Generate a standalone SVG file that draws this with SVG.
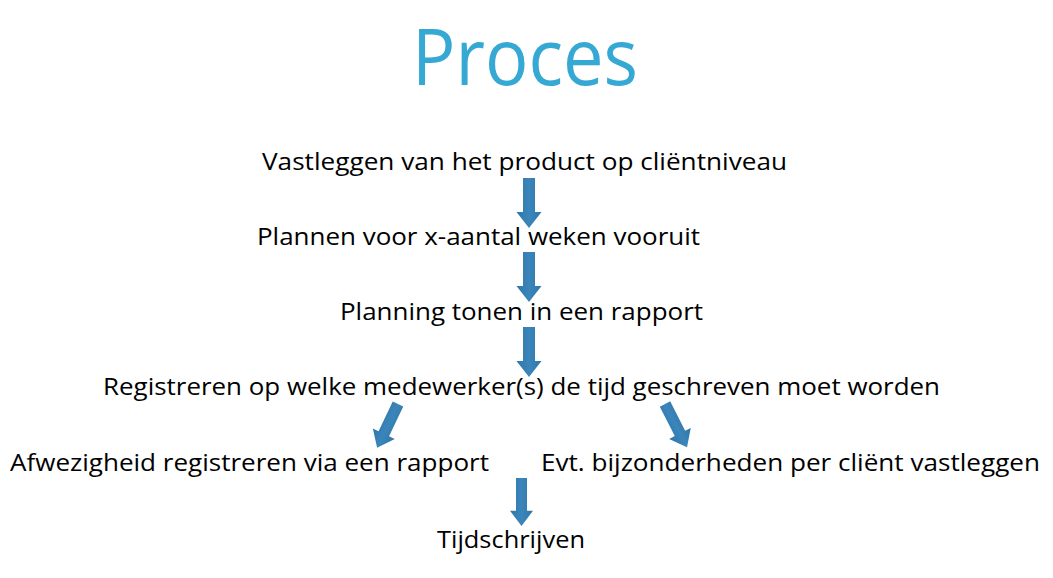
<svg xmlns="http://www.w3.org/2000/svg" width="1053" height="578" viewBox="0 0 1053 578">
<style>
.t{font-family:"Open Sans","Noto Sans",sans-serif;font-size:24px;fill:#000;}
.title{font-family:"Open Sans","Noto Sans",sans-serif;font-size:78px;fill:#35a8d4;}
.arr{fill:url(#g);}
</style>
<defs>
<linearGradient id="g" x1="0" y1="0" x2="1" y2="0">
<stop offset="0" stop-color="#2f77aa"/>
<stop offset="0.5" stop-color="#3a85ba"/>
<stop offset="1" stop-color="#2f77aa"/>
</linearGradient>
<path id="down" d="M-6,0 H6 V34 H12.5 L0,50 L-12.5,34 H-6 Z"/>
</defs>
<rect width="1053" height="578" fill="#fff"/>
<text class="title" x="412" y="85" textLength="226" lengthAdjust="spacingAndGlyphs">Proces</text>
<g id="n1"><text class="t" x="262" y="170" textLength="525" lengthAdjust="spacingAndGlyphs">Vastleggen van het product op cliëntniveau</text></g>
<g id="n2"><text class="t" x="257" y="245" textLength="443" lengthAdjust="spacingAndGlyphs">Plannen voor x-aantal weken vooruit</text></g>
<g id="n3"><text class="t" x="340" y="320" textLength="363" lengthAdjust="spacingAndGlyphs">Planning tonen in een rapport</text></g>
<g id="n4"><text class="t" x="103" y="395" textLength="837" lengthAdjust="spacingAndGlyphs">Registreren op welke medewerker(s) de tijd geschreven moet worden</text></g>
<g id="n5"><text class="t" x="10" y="471" textLength="479" lengthAdjust="spacingAndGlyphs">Afwezigheid registreren via een rapport</text></g>
<g id="n6"><text class="t" x="541" y="471" textLength="499" lengthAdjust="spacingAndGlyphs">Evt. bijzonderheden per cliënt vastleggen</text></g>
<g id="n7"><text class="t" x="437" y="548" textLength="148" lengthAdjust="spacingAndGlyphs">Tijdschrijven</text></g>
<g id="connectors">
<use href="#down" class="arr" transform="translate(529,178)"/>
<use href="#down" class="arr" transform="translate(529,252)"/>
<use href="#down" class="arr" transform="translate(529,327)"/>
<use href="#down" class="arr" transform="translate(398,404) rotate(25.5) scale(0.97)"/>
<use href="#down" class="arr" transform="translate(665,404) rotate(-27) scale(0.97)"/>
<use href="#down" class="arr" transform="translate(521.5,478) scale(0.92,0.96)"/>
</g>
</svg>
